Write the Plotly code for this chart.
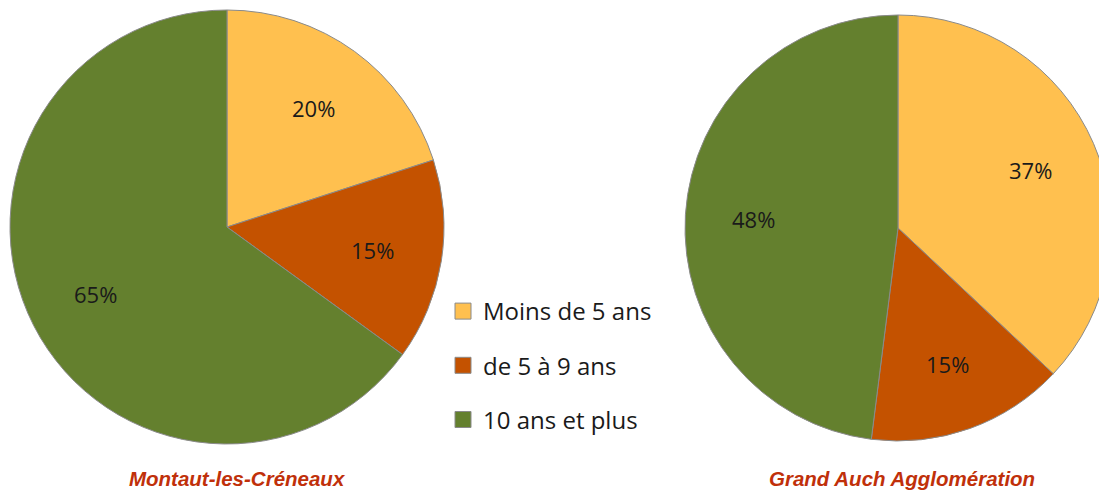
import math
import plotly.graph_objects as go

categories = ["Moins de 5 ans", "de 5 à 9 ans", "10 ans et plus"]
montaut_values = [20, 15, 65]
grand_auch_values = [37, 15, 48]
titles = ["Montaut-les-Créneaux", "Grand Auch Agglomération"]
colors = ["#FFC04F", "#C45200", "#64802E"]

W, H = 1107, 491
OFF = 8  # page body margin


def px(x):
    return (x - OFF) / W


def py(y):
    return (H - (y - OFF)) / H


fig = go.Figure()

pies = [
    (montaut_values, 227, 227, 217),
    (grand_auch_values, 898, 228, 213),
]

for vals, cx, cy, r in pies:
    fig.add_trace(go.Pie(
        labels=categories, values=vals, sort=False, direction="clockwise", rotation=0,
        marker=dict(colors=colors, line=dict(color="#8a8a8a", width=1)),
        textinfo="none",
        showlegend=False, hoverinfo="label+percent",
        domain=dict(x=[px(cx - r), px(cx + r)], y=[py(cy + r), py(cy - r)]),
    ))
    # percentage labels along each slice bisector
    total = sum(vals)
    cum = 0
    for v in vals:
        mid = (cum + v / 2) / total * 2 * math.pi
        cum += v
        rr = 0.68 * r
        lx = cx + rr * math.sin(mid)
        ly = cy - rr * math.cos(mid)
        fig.add_annotation(x=px(lx), y=py(ly), xref="paper", yref="paper",
                           text=f"{round(v / total * 100)}%", showarrow=False,
                           xanchor="center", yanchor="middle",
                           font=dict(family="Open Sans", size=22, color="#1a1a1a"))

for i, (cat, col) in enumerate(zip(categories, colors)):
    fig.add_trace(go.Scatter(
        x=[None], y=[None], mode="markers", name=cat,
        marker=dict(symbol="square", size=18, color=col, line=dict(color="#8a8a8a", width=1)),
        legendgroup=f"g{i}", showlegend=True,
    ))

for t, tx in zip(titles, [237, 902]):
    fig.add_annotation(x=px(tx), y=py(478), xref="paper", yref="paper",
                       text=f"<b><i>{t}</i></b>", showarrow=False,
                       xanchor="center", yanchor="middle",
                       font=dict(family="Liberation Sans", size=20.5, color="#C0300A"))

fig.update_layout(
    width=W, height=H, margin=dict(l=0, r=0, t=0, b=0),
    paper_bgcolor="white", plot_bgcolor="white",
    xaxis=dict(visible=False), yaxis=dict(visible=False),
    legend=dict(x=px(443), y=py(289), xanchor="left", yanchor="top",
                font=dict(family="Open Sans", size=24, color="#1a1a1a"),
                tracegroupgap=20, bgcolor="rgba(0,0,0,0)", itemwidth=30),
)

fig.write_html("out.html")
